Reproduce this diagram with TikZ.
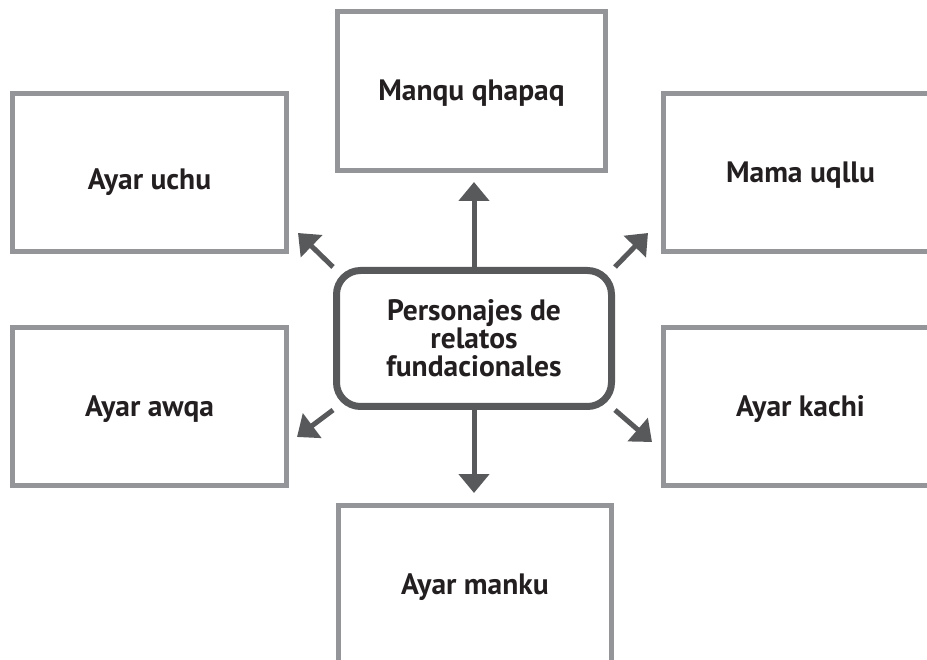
\documentclass[tikz,border=0pt]{standalone}
\usepackage{fontspec}
\setmainfont{PT Sans}
\usetikzlibrary{arrows.meta,backgrounds}

\definecolor{boxgray}{HTML}{939598}
\definecolor{darkgray}{HTML}{58595B}
\definecolor{ink}{HTML}{231F20}

\begin{document}
\begin{tikzpicture}[x=1pt,y=-1pt,
  namebox/.style={draw=boxgray, line width=5pt, fill=white, rectangle,
    minimum width=274pt, minimum height=158pt, inner sep=0pt,
    text height=20pt, text depth=0pt,
    font=\fontsize{29.5}{32}\selectfont\bfseries, text=ink},
  hub/.style={draw=darkgray, line width=7pt, fill=white, rectangle,
    rounded corners=24pt, minimum width=275pt, minimum height=136pt,
    inner sep=0pt, align=center,
    font=\fontsize{29.5}{28}\selectfont\bfseries, text=ink},
  link/.style={draw=darkgray, line width=5pt,
    -{Triangle[length=19pt,width=30pt]}}]

\useasboundingbox (0,0) rectangle (927,660);
\clip (0,0) rectangle (927,660);

% outer boxes
\node[namebox, minimum width=268pt, minimum height=159pt] (manqu) at (471.5,91) {Manqu qhapaq};
\node[namebox, text height=34pt] (uchu) at (149.5,173) {Ayar uchu};
\node[namebox] (mama)  at (800.5,173)   {Mama uqllu};
\node[namebox] (awqa)  at (149.5,406.5) {Ayar awqa};
\node[namebox] (kachi) at (800.5,406.5) {Ayar kachi};
\node[namebox, minimum width=273pt, minimum height=159pt] (manku) at (475,584.5) {Ayar manku};

% central topic
\node[hub] (hub) at (474,338.5) {Personajes de\\relatos\\fundacionales};

% arrow tips
\coordinate (tN)  at (474,182);
\coordinate (tS)  at (474,493);
\coordinate (tNW) at (298,233);
\coordinate (tNE) at (648,233);
\coordinate (tSW) at (297,437);
\coordinate (tSE) at (652,442);

\begin{scope}[on background layer]
  \draw[link] (hub.north) -- (tN);
  \draw[link] (hub.south) -- (tS);
  \draw[link] (hub.north west) -- (tNW);
  \draw[link] (hub.north east) -- (tNE);
  \draw[link] (hub.south west) -- (tSW);
  \draw[link] (hub.south east) -- (tSE);
\end{scope}
\end{tikzpicture}
\end{document}
